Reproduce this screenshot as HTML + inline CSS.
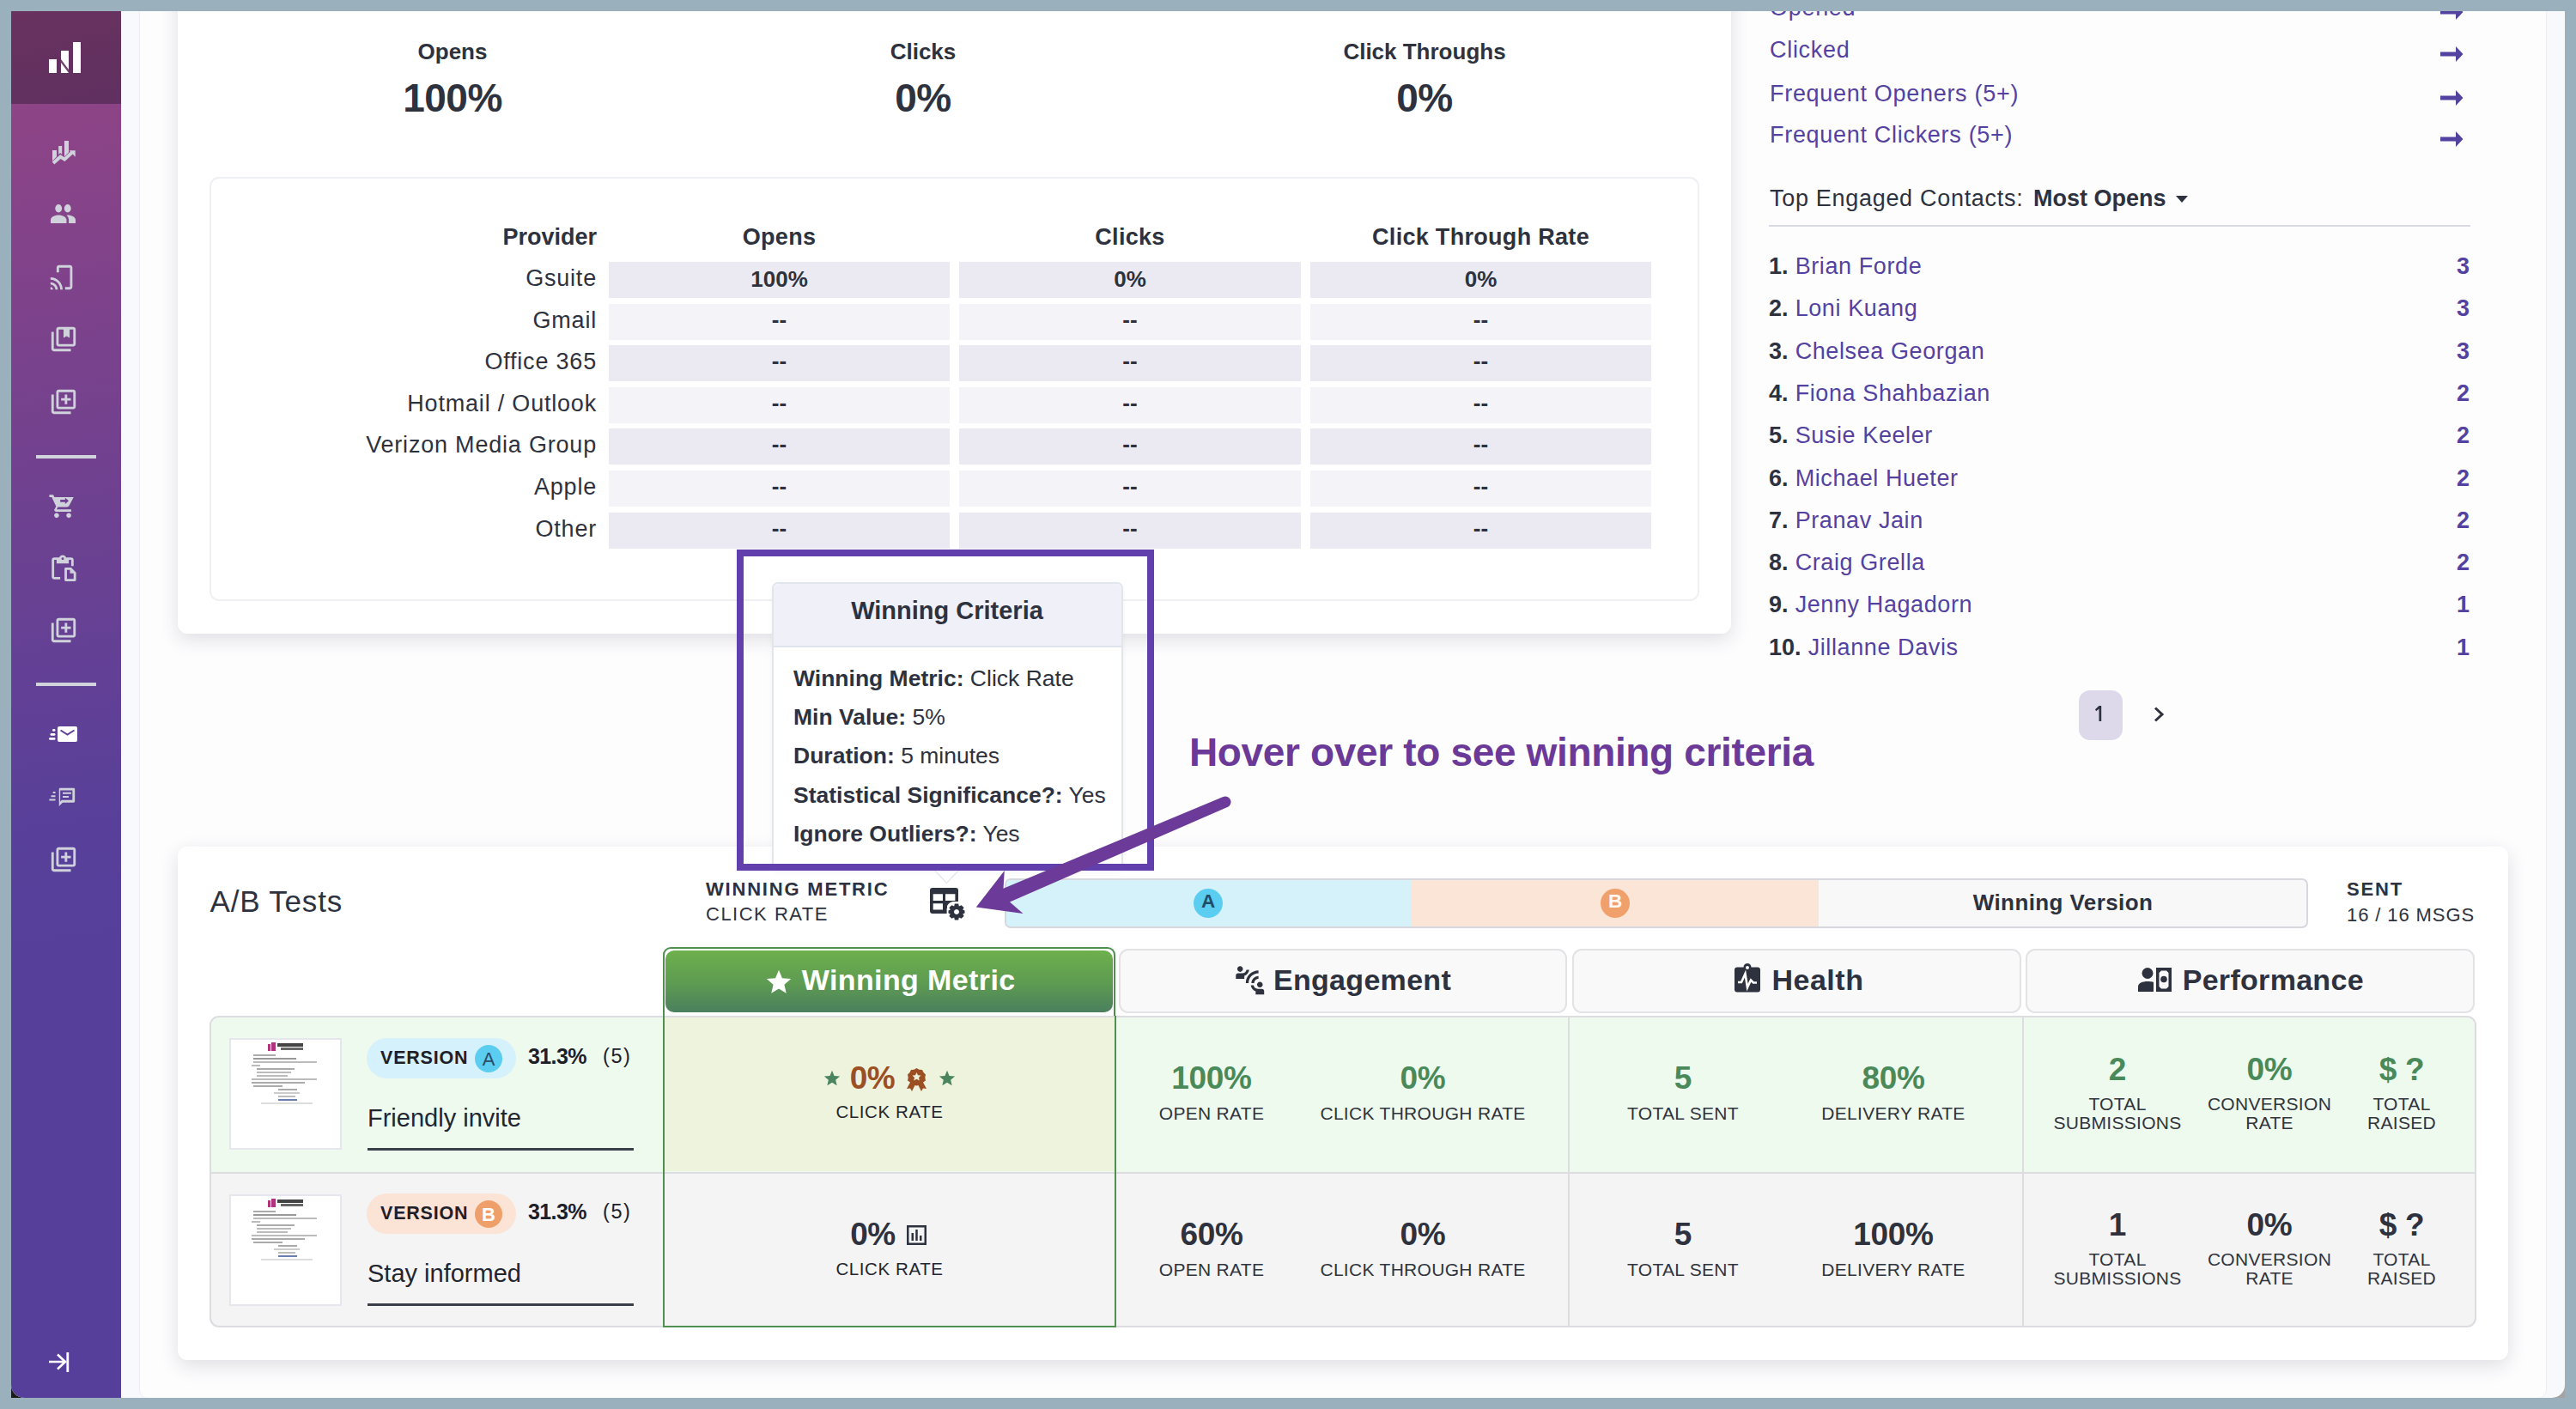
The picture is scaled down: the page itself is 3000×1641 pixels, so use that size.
<!DOCTYPE html><html><head><meta charset="utf-8"><style>
html,body{margin:0;padding:0}
body{width:3000px;height:1641px;overflow:hidden;position:relative;background:#9ab0bc;font-family:"Liberation Sans",sans-serif}
.t{position:absolute;line-height:1;white-space:nowrap}
.a{position:absolute}
svg{position:absolute;overflow:visible}
</style></head><body>
<div style="position:absolute;left:13px;top:1608px;width:17px;height:20px;background:#1b1b16;"></div>
<div style="position:absolute;left:2970px;top:1608px;width:17px;height:20px;background:#a3a3a3;"></div>
<div style="position:absolute;left:13px;top:13px;width:2974px;height:1615px;background:#f8f9fd;border-radius:0 0 15px 15px;"></div>
<div style="position:absolute;left:163px;top:13px;width:2802px;height:1615px;background:#fdfdfe;border-radius:0 0 9px 9px;box-shadow:-1px 0 0 #ececf1, 1px 0 0 #ececf1;"></div>
<div style="position:absolute;left:13px;top:121px;width:128px;height:1507px;background:linear-gradient(172deg,#8e4486 0%,#71418f 28%,#58409a 56%,#553f9b 66%,#553f9b 100%);border-radius:0 0 0 15px;"></div>
<div style="position:absolute;left:13px;top:13px;width:128px;height:108px;background:linear-gradient(165deg,#69325f 0%,#5f3060 100%);"></div>
<div style="position:absolute;left:57px;top:69px;width:9px;height:16px;background:#fff;"></div>
<svg style="left:71px;top:59px" width="9" height="26"><path d="M0 0H9V26H0Z" fill="#fff"/><path d="M0 10 L9 22 L9 26 L0 14Z" fill="#633160" opacity="0.9"/></svg>
<div style="position:absolute;left:85px;top:49px;width:9px;height:36px;background:#fff;"></div>
<svg style="left:50px;top:155px" width="50" height="45" viewBox="0 0 50 45"><path d="M11 20H16V27.5L11 32.5ZM18.2 15H22.2V25L20.2 23 18.2 25ZM25 9H30V22.5L25 27.5ZM30.6 20.3H37.7V27.8Z" fill="#cfd2da"/><path d="M12 35 L20.4 27.6 L25.2 30.6 L34.5 22" stroke="#cfd2da" stroke-width="4" fill="none"/></svg>
<svg style="left:59px;top:238px" width="29" height="22" viewBox="1 5 22 14" preserveAspectRatio="none"><path d="M16 11c1.66 0 2.99-1.34 2.99-3S17.66 5 16 5c-1.66 0-3 1.34-3 3s1.34 3 3 3zm-8 0c1.66 0 2.99-1.34 2.99-3S9.66 5 8 5C6.34 5 5 6.34 5 8s1.34 3 3 3zm0 2c-2.33 0-7 1.17-7 3.5V19h14v-2.5c0-2.33-4.67-3.5-7-3.5zm8 0c-.29 0-.62.02-.97.05 1.16.84 1.97 1.97 1.97 3.45V19h6v-2.5c0-2.33-4.67-3.5-7-3.5z" fill="#cfd2da"/></svg>
<svg style="left:56px;top:306px" width="34" height="34" viewBox="0 0 24 24"><path d="M9 2h9c1.1 0 2 .9 2 2v16c0 1.1-.9 2-2 2h-4v-2h4V4H9v4H7V4c0-1.1.9-2 2-2zM2 20v2h2c0-1.1-.9-2-2-2zm0-4v2c2.2 0 4 1.8 4 4h2c0-3.3-2.7-6-6-6zm0-4v2c4.4 0 8 3.6 8 8h2c0-5.5-4.5-10-10-10z" fill="#cfd2da"/></svg>
<svg style="left:57px;top:378px" width="34" height="34" viewBox="0 0 24 24"><path d="M4 6H2v14c0 1.1.9 2 2 2h14v-2H4V6zm16-4H8c-1.1 0-2 .9-2 2v12c0 1.1.9 2 2 2h12c1.1 0 2-.9 2-2V4c0-1.1-.9-2-2-2zm0 14H8V4h4v7l2.5-1.5L17 11V4h3v12z" fill="#cfd2da"/></svg>
<svg style="left:57px;top:451px" width="34" height="34" viewBox="0 0 24 24"><path d="M4 6H2v14c0 1.1.9 2 2 2h14v-2H4V6zm16-4H8c-1.1 0-2 .9-2 2v12c0 1.1.9 2 2 2h12c1.1 0 2-.9 2-2V4c0-1.1-.9-2-2-2zm0 14H8V4h12v12zm-7-2h2v-3h3V9h-3V6h-2v3h-3v2h3z" fill="#cfd2da"/></svg>
<div style="position:absolute;left:42px;top:530px;width:70px;height:4px;background:#d2d4dc;"></div>
<svg style="left:56px;top:572px" width="34" height="34" viewBox="0 0 24 24"><path d="M7 18c-1.1 0-1.99.9-1.99 2S5.9 22 7 22s2-.9 2-2-.9-2-2-2zm10 0c-1.1 0-1.99.9-1.99 2s.89 2 1.99 2 2-.9 2-2-.9-2-2-2zM8.1 13h7.45c.75 0 1.41-.41 1.75-1.03L21 5H5.21l-.94-2H1v2h2l3.6 7.59-1.35 2.44C4.52 15.37 5.48 17 7 17h12v-2H7l1.1-2zM10 7h4V5.5l3 2.5-3 2.5V9h-4z" fill="#cfd2da"/></svg>
<svg style="left:56px;top:645px" width="34" height="34" viewBox="0 0 24 24"><path d="M19 3h-4.18C14.4 1.84 13.3 1 12 1s-2.4.84-2.82 2H5c-1.1 0-2 .9-2 2v14c0 1.1.9 2 2 2h5v-2H5V5h2v3h10V5h2v5h2V5c0-1.1-.9-2-2-2zm-7 2c-.55 0-1-.45-1-1s.45-1 1-1 1 .45 1 1-.45 1-1 1zM14.5 11.3h4.5l4 4v6.3c0 .6-.4 1-1 1h-7.5c-.6 0-1-.4-1-1v-9.3c0-.6.4-1 1-1zm1 2v7.3h5.5v-4.5h-3v-2.8z" fill="#cfd2da"/></svg>
<svg style="left:57px;top:717px" width="34" height="34" viewBox="0 0 24 24"><path d="M4 6H2v14c0 1.1.9 2 2 2h14v-2H4V6zm16-4H8c-1.1 0-2 .9-2 2v12c0 1.1.9 2 2 2h12c1.1 0 2-.9 2-2V4c0-1.1-.9-2-2-2zm0 14H8V4h12v12zm-7-2h2v-3h3V9h-3V6h-2v3h-3v2h3z" fill="#cfd2da"/></svg>
<div style="position:absolute;left:42px;top:795px;width:70px;height:4px;background:#d2d4dc;"></div>
<svg style="left:50px;top:840px" width="45" height="30" viewBox="50 840 45 30"><rect x="67" y="846" width="23" height="18" rx="2" fill="#fff"/><path d="M70.5 850.5 L78.5 855.5 L86.5 850.5" stroke="#5d3f98" stroke-width="2" fill="none"/><rect x="61" y="849" width="3.5" height="2.8" rx="1.4" fill="#fff"/><rect x="58.5" y="854" width="6" height="2.8" rx="1.4" fill="#fff"/><rect x="57" y="859" width="7.5" height="2.8" rx="1.4" fill="#fff"/></svg>
<svg style="left:56px;top:912px" width="34" height="34" viewBox="0 0 24 24"><path d="M9 4h12c.6 0 1 .4 1 1v10c0 .6-.4 1-1 1h-9l-3 3V5c0-.6.4-1 1-1zm1 2v9.2L11.2 14H20V6zm2 1.5h7V9h-7zm0 3h5V12h-5zM1 13h5v1.5H1zM2.5 10H6v1.5H2.5zM4 7h2v1.5H4z" fill="#cfd2da"/></svg>
<svg style="left:57px;top:984px" width="34" height="34" viewBox="0 0 24 24"><path d="M4 6H2v14c0 1.1.9 2 2 2h14v-2H4V6zm16-4H8c-1.1 0-2 .9-2 2v12c0 1.1.9 2 2 2h12c1.1 0 2-.9 2-2V4c0-1.1-.9-2-2-2zm0 14H8V4h12v12zm-7-2h2v-3h3V9h-3V6h-2v3h-3v2h3z" fill="#cfd2da"/></svg>
<svg style="left:0;top:0" width="200" height="1641"><path d="M57 1586H76M67 1577.5L76 1586 67 1594.5" stroke="#fff" stroke-width="2.6" fill="none"/><rect x="77.4" y="1575" width="2.8" height="23" fill="#fff"/></svg>
<div style="position:absolute;left:207px;top:-20px;width:1809px;height:758px;background:#fff;border-radius:11px;box-shadow:0 7px 22px rgba(40,40,70,0.14);"></div>
<div class="t" style="left:-73px;width:1200px;text-align:center;top:46.9px;font-size:26px;font-weight:700;color:#2d323e;">Opens</div>
<div class="t" style="left:-73px;width:1200px;text-align:center;top:90.9px;font-size:46px;font-weight:700;color:#2d323e;letter-spacing:-0.5px;">100%</div>
<div class="t" style="left:475px;width:1200px;text-align:center;top:46.9px;font-size:26px;font-weight:700;color:#2d323e;">Clicks</div>
<div class="t" style="left:475px;width:1200px;text-align:center;top:90.9px;font-size:46px;font-weight:700;color:#2d323e;letter-spacing:-0.5px;">0%</div>
<div class="t" style="left:1059px;width:1200px;text-align:center;top:46.9px;font-size:26px;font-weight:700;color:#2d323e;">Click Throughs</div>
<div class="t" style="left:1059px;width:1200px;text-align:center;top:90.9px;font-size:46px;font-weight:700;color:#2d323e;letter-spacing:-0.5px;">0%</div>
<div style="position:absolute;left:244px;top:206px;width:1735px;height:494px;background:#fff;border:2px solid #eef0f3;border-radius:11px;box-sizing:border-box;"></div>
<div class="t" style="left:-505px;width:1200px;text-align:right;top:263.1px;font-size:27px;font-weight:700;color:#2d323e;">Provider</div>
<div class="t" style="left:307.5px;width:1200px;text-align:center;top:263.1px;font-size:27px;font-weight:700;color:#2d323e;letter-spacing:0.3px;">Opens</div>
<div class="t" style="left:716.0px;width:1200px;text-align:center;top:263.1px;font-size:27px;font-weight:700;color:#2d323e;letter-spacing:0.3px;">Clicks</div>
<div class="t" style="left:1124.5px;width:1200px;text-align:center;top:263.1px;font-size:27px;font-weight:700;color:#2d323e;letter-spacing:0.3px;">Click Through Rate</div>
<div style="position:absolute;left:709px;top:305px;width:397px;height:42px;background:#ebeaf3;"></div>
<div style="position:absolute;left:1117px;top:305px;width:398px;height:42px;background:#ebeaf3;"></div>
<div style="position:absolute;left:1526px;top:305px;width:397px;height:42px;background:#ebeaf3;"></div>
<div class="t" style="left:-505px;width:1200px;text-align:right;top:311.1px;font-size:27px;color:#2d323e;letter-spacing:0.8px;">Gsuite</div>
<div class="t" style="left:307.5px;width:1200px;text-align:center;top:311.9px;font-size:26px;font-weight:700;color:#2d323e;">100%</div>
<div class="t" style="left:716.0px;width:1200px;text-align:center;top:311.9px;font-size:26px;font-weight:700;color:#2d323e;">0%</div>
<div class="t" style="left:1124.5px;width:1200px;text-align:center;top:311.9px;font-size:26px;font-weight:700;color:#2d323e;">0%</div>
<div style="position:absolute;left:709px;top:354px;width:397px;height:42px;background:#f4f3f8;"></div>
<div style="position:absolute;left:1117px;top:354px;width:398px;height:42px;background:#f4f3f8;"></div>
<div style="position:absolute;left:1526px;top:354px;width:397px;height:42px;background:#f4f3f8;"></div>
<div class="t" style="left:-505px;width:1200px;text-align:right;top:359.7px;font-size:27px;color:#2d323e;letter-spacing:0.8px;">Gmail</div>
<div class="t" style="left:307.5px;width:1200px;text-align:center;top:358.5px;font-size:26px;font-weight:700;color:#2d323e;">--</div>
<div class="t" style="left:716.0px;width:1200px;text-align:center;top:358.5px;font-size:26px;font-weight:700;color:#2d323e;">--</div>
<div class="t" style="left:1124.5px;width:1200px;text-align:center;top:358.5px;font-size:26px;font-weight:700;color:#2d323e;">--</div>
<div style="position:absolute;left:709px;top:402px;width:397px;height:42px;background:#ebeaf3;"></div>
<div style="position:absolute;left:1117px;top:402px;width:398px;height:42px;background:#ebeaf3;"></div>
<div style="position:absolute;left:1526px;top:402px;width:397px;height:42px;background:#ebeaf3;"></div>
<div class="t" style="left:-505px;width:1200px;text-align:right;top:408.2px;font-size:27px;color:#2d323e;letter-spacing:0.8px;">Office 365</div>
<div class="t" style="left:307.5px;width:1200px;text-align:center;top:407.1px;font-size:26px;font-weight:700;color:#2d323e;">--</div>
<div class="t" style="left:716.0px;width:1200px;text-align:center;top:407.1px;font-size:26px;font-weight:700;color:#2d323e;">--</div>
<div class="t" style="left:1124.5px;width:1200px;text-align:center;top:407.1px;font-size:26px;font-weight:700;color:#2d323e;">--</div>
<div style="position:absolute;left:709px;top:451px;width:397px;height:42px;background:#f4f3f8;"></div>
<div style="position:absolute;left:1117px;top:451px;width:398px;height:42px;background:#f4f3f8;"></div>
<div style="position:absolute;left:1526px;top:451px;width:397px;height:42px;background:#f4f3f8;"></div>
<div class="t" style="left:-505px;width:1200px;text-align:right;top:456.9px;font-size:27px;color:#2d323e;letter-spacing:0.8px;">Hotmail / Outlook</div>
<div class="t" style="left:307.5px;width:1200px;text-align:center;top:455.7px;font-size:26px;font-weight:700;color:#2d323e;">--</div>
<div class="t" style="left:716.0px;width:1200px;text-align:center;top:455.7px;font-size:26px;font-weight:700;color:#2d323e;">--</div>
<div class="t" style="left:1124.5px;width:1200px;text-align:center;top:455.7px;font-size:26px;font-weight:700;color:#2d323e;">--</div>
<div style="position:absolute;left:709px;top:499px;width:397px;height:42px;background:#ebeaf3;"></div>
<div style="position:absolute;left:1117px;top:499px;width:398px;height:42px;background:#ebeaf3;"></div>
<div style="position:absolute;left:1526px;top:499px;width:397px;height:42px;background:#ebeaf3;"></div>
<div class="t" style="left:-505px;width:1200px;text-align:right;top:505.4px;font-size:27px;color:#2d323e;letter-spacing:0.8px;">Verizon Media Group</div>
<div class="t" style="left:307.5px;width:1200px;text-align:center;top:504.3px;font-size:26px;font-weight:700;color:#2d323e;">--</div>
<div class="t" style="left:716.0px;width:1200px;text-align:center;top:504.3px;font-size:26px;font-weight:700;color:#2d323e;">--</div>
<div class="t" style="left:1124.5px;width:1200px;text-align:center;top:504.3px;font-size:26px;font-weight:700;color:#2d323e;">--</div>
<div style="position:absolute;left:709px;top:548px;width:397px;height:42px;background:#f4f3f8;"></div>
<div style="position:absolute;left:1117px;top:548px;width:398px;height:42px;background:#f4f3f8;"></div>
<div style="position:absolute;left:1526px;top:548px;width:397px;height:42px;background:#f4f3f8;"></div>
<div class="t" style="left:-505px;width:1200px;text-align:right;top:554.0px;font-size:27px;color:#2d323e;letter-spacing:0.8px;">Apple</div>
<div class="t" style="left:307.5px;width:1200px;text-align:center;top:552.9px;font-size:26px;font-weight:700;color:#2d323e;">--</div>
<div class="t" style="left:716.0px;width:1200px;text-align:center;top:552.9px;font-size:26px;font-weight:700;color:#2d323e;">--</div>
<div class="t" style="left:1124.5px;width:1200px;text-align:center;top:552.9px;font-size:26px;font-weight:700;color:#2d323e;">--</div>
<div style="position:absolute;left:709px;top:597px;width:397px;height:42px;background:#ebeaf3;"></div>
<div style="position:absolute;left:1117px;top:597px;width:398px;height:42px;background:#ebeaf3;"></div>
<div style="position:absolute;left:1526px;top:597px;width:397px;height:42px;background:#ebeaf3;"></div>
<div class="t" style="left:-505px;width:1200px;text-align:right;top:602.6px;font-size:27px;color:#2d323e;letter-spacing:0.8px;">Other</div>
<div class="t" style="left:307.5px;width:1200px;text-align:center;top:601.5px;font-size:26px;font-weight:700;color:#2d323e;">--</div>
<div class="t" style="left:716.0px;width:1200px;text-align:center;top:601.5px;font-size:26px;font-weight:700;color:#2d323e;">--</div>
<div class="t" style="left:1124.5px;width:1200px;text-align:center;top:601.5px;font-size:26px;font-weight:700;color:#2d323e;">--</div>
<div class="t" style="left:2061px;top:-3.9px;font-size:27px;color:#5442a1;letter-spacing:0.7px;">Opened</div>
<svg style="left:2842px;top:5px" width="27" height="18"><path d="M0 6.5H18V0L26.5 9L18 18V11.5H0Z" fill="#5442a1"/></svg>
<div class="t" style="left:2061px;top:45.0px;font-size:27px;color:#5442a1;letter-spacing:0.7px;">Clicked</div>
<svg style="left:2842px;top:54px" width="27" height="18"><path d="M0 6.5H18V0L26.5 9L18 18V11.5H0Z" fill="#5442a1"/></svg>
<div class="t" style="left:2061px;top:95.5px;font-size:27px;color:#5442a1;letter-spacing:0.7px;">Frequent Openers (5+)</div>
<svg style="left:2842px;top:104.5px" width="27" height="18"><path d="M0 6.5H18V0L26.5 9L18 18V11.5H0Z" fill="#5442a1"/></svg>
<div class="t" style="left:2061px;top:144.1px;font-size:27px;color:#5442a1;letter-spacing:0.7px;">Frequent Clickers (5+)</div>
<svg style="left:2842px;top:153px" width="27" height="18"><path d="M0 6.5H18V0L26.5 9L18 18V11.5H0Z" fill="#5442a1"/></svg>
<div class="t" style="left:2061px;top:218.1px;font-size:27px;color:#2d323e;letter-spacing:0.7px;">Top Engaged Contacts:</div>
<div class="t" style="left:2368px;top:218.1px;font-size:27px;font-weight:700;color:#2d323e;">Most Opens</div>
<svg style="left:2534px;top:228px" width="14" height="8"><path d="M0 0H14L7 8Z" fill="#2d323e"/></svg>
<div style="position:absolute;left:2060px;top:262px;width:817px;height:2px;background:#d9d9e1;"></div>
<div class="t" style="left:2060px;top:297.1px;font-size:27px;color:#5442a1;letter-spacing:0.6px"><b style="color:#2d323e;letter-spacing:0">1.</b> Brian Forde</div>
<div class="t" style="left:1676px;width:1200px;text-align:right;top:297.1px;font-size:27px;font-weight:700;color:#5442a1;">3</div>
<div class="t" style="left:2060px;top:346.4px;font-size:27px;color:#5442a1;letter-spacing:0.6px"><b style="color:#2d323e;letter-spacing:0">2.</b> Loni Kuang</div>
<div class="t" style="left:1676px;width:1200px;text-align:right;top:346.4px;font-size:27px;font-weight:700;color:#5442a1;">3</div>
<div class="t" style="left:2060px;top:395.7px;font-size:27px;color:#5442a1;letter-spacing:0.6px"><b style="color:#2d323e;letter-spacing:0">3.</b> Chelsea Georgan</div>
<div class="t" style="left:1676px;width:1200px;text-align:right;top:395.7px;font-size:27px;font-weight:700;color:#5442a1;">3</div>
<div class="t" style="left:2060px;top:444.9px;font-size:27px;color:#5442a1;letter-spacing:0.6px"><b style="color:#2d323e;letter-spacing:0">4.</b> Fiona Shahbazian</div>
<div class="t" style="left:1676px;width:1200px;text-align:right;top:444.9px;font-size:27px;font-weight:700;color:#5442a1;">2</div>
<div class="t" style="left:2060px;top:494.3px;font-size:27px;color:#5442a1;letter-spacing:0.6px"><b style="color:#2d323e;letter-spacing:0">5.</b> Susie Keeler</div>
<div class="t" style="left:1676px;width:1200px;text-align:right;top:494.3px;font-size:27px;font-weight:700;color:#5442a1;">2</div>
<div class="t" style="left:2060px;top:543.5px;font-size:27px;color:#5442a1;letter-spacing:0.6px"><b style="color:#2d323e;letter-spacing:0">6.</b> Michael Hueter</div>
<div class="t" style="left:1676px;width:1200px;text-align:right;top:543.5px;font-size:27px;font-weight:700;color:#5442a1;">2</div>
<div class="t" style="left:2060px;top:592.8px;font-size:27px;color:#5442a1;letter-spacing:0.6px"><b style="color:#2d323e;letter-spacing:0">7.</b> Pranav Jain</div>
<div class="t" style="left:1676px;width:1200px;text-align:right;top:592.8px;font-size:27px;font-weight:700;color:#5442a1;">2</div>
<div class="t" style="left:2060px;top:642.1px;font-size:27px;color:#5442a1;letter-spacing:0.6px"><b style="color:#2d323e;letter-spacing:0">8.</b> Craig Grella</div>
<div class="t" style="left:1676px;width:1200px;text-align:right;top:642.1px;font-size:27px;font-weight:700;color:#5442a1;">2</div>
<div class="t" style="left:2060px;top:691.4px;font-size:27px;color:#5442a1;letter-spacing:0.6px"><b style="color:#2d323e;letter-spacing:0">9.</b> Jenny Hagadorn</div>
<div class="t" style="left:1676px;width:1200px;text-align:right;top:691.4px;font-size:27px;font-weight:700;color:#5442a1;">1</div>
<div class="t" style="left:2060px;top:740.8px;font-size:27px;color:#5442a1;letter-spacing:0.6px"><b style="color:#2d323e;letter-spacing:0">10.</b> Jillanne Davis</div>
<div class="t" style="left:1676px;width:1200px;text-align:right;top:740.8px;font-size:27px;font-weight:700;color:#5442a1;">1</div>
<div style="position:absolute;left:2421px;top:804px;width:51px;height:58px;background:#ddd9ea;border-radius:13px;"></div>
<svg style="left:2436px;top:818px" width="20" height="26"><path d="M8.5 4H11.2V22H8.5V7.6L5.2 10.2 4 8.2Z" fill="#2d323e"/></svg>
<svg style="left:2508px;top:823px" width="13" height="18"><path d="M2 1.5L10 9L2 16.5" stroke="#2d323e" stroke-width="3" fill="none"/></svg>
<div style="position:absolute;left:207px;top:986px;width:2714px;height:598px;background:#fff;border-radius:11px;box-shadow:0 7px 22px rgba(40,40,70,0.14);"></div>
<div class="t" style="left:244.6px;top:1032.0px;font-size:35px;color:#2d323e;letter-spacing:0.8px;">A/B Tests</div>
<div class="t" style="left:822px;top:1025.3px;font-size:22px;font-weight:700;color:#2d323e;letter-spacing:1.8px;">WINNING METRIC</div>
<div class="t" style="left:822px;top:1054.3px;font-size:22px;color:#2d323e;letter-spacing:1.5px;">CLICK RATE</div>
<svg style="left:1083px;top:1034px" width="42" height="40" viewBox="0 0 42 40">
<path d="M3 0H30Q33 0 33 3V16H27Q22.5 16.5 20 21V24H19.6V30H3Q0 30 0 27V3Q0 0 3 0ZM3.7 7.2V15H15V7.2ZM18 7.2V15H29.4V7.2ZM3.7 18.3V25.4H15V18.3Z" fill="#2d323e" fill-rule="evenodd"/>
<g transform="translate(31,28)"><path d="M-2.2 -9.5H2.2L2.8 -6.6 5.6 -7.8 8.6 -5 7.2 -2.4 9.5 -1.6V1.6L7.2 2.4 8.6 5 5.6 7.8 2.8 6.6 2.2 9.5H-2.2L-2.8 6.6-5.6 7.8-8.6 5-7.2 2.4-9.5 1.6V-1.6L-7.2 -2.4-8.6-5-5.6-7.8-2.8-6.6Z M0 -3A3 3 0 1 0 0.01 -3Z" fill="#2d323e" fill-rule="evenodd"/></g>
</svg>
<div class="a" style="left:1170px;top:1023px;width:1518px;height:58px;border:2px solid #d7d7de;border-radius:7px;box-sizing:border-box;overflow:hidden;background:#f8f8f9">
<div class="a" style="left:0;top:0;width:472px;height:54px;background:#d5f2fb"></div>
<div class="a" style="left:472px;top:0;width:474px;height:54px;background:#fbe5d7"></div>
</div>
<div style="position:absolute;left:1390px;top:1034.5px;width:34px;height:34.0px;background:#5bcdf0;border-radius:50%;"></div>
<div class="t" style="left:807px;width:1200px;text-align:center;top:1039.4px;font-size:22.5px;font-weight:700;color:#1f4d68;">A</div>
<div style="position:absolute;left:1864px;top:1034.5px;width:34px;height:34.0px;background:#f0a06b;border-radius:50%;"></div>
<div class="t" style="left:1281px;width:1200px;text-align:center;top:1039.4px;font-size:22.5px;font-weight:700;color:#fff8f2;">B</div>
<div class="t" style="left:1802.5px;width:1200px;text-align:center;top:1037.5px;font-size:26px;font-weight:700;color:#2d323e;letter-spacing:0.4px;">Winning Version</div>
<div class="t" style="left:2733px;top:1025.3px;font-size:22px;font-weight:700;color:#2d323e;letter-spacing:1.8px;">SENT</div>
<div class="t" style="left:2733px;top:1054.8px;font-size:22px;color:#2d323e;letter-spacing:0.9px;">16 / 16 MSGS</div>
<div style="position:absolute;left:772px;top:1103px;width:527px;height:87px;border:2px solid #4f8f50;border-bottom:none;border-radius:9px 9px 0 0;box-sizing:border-box;"></div>
<div style="position:absolute;left:775px;top:1107px;width:521px;height:72px;background:linear-gradient(180deg,#6eb04c 0%,#5d9a52 55%,#4b7f5e 100%);border-radius:10px;"></div>
<div style="position:absolute;left:1302.6px;top:1105px;width:522.4000000000001px;height:75px;background:#f9f9fa;border:2px solid #e3e3e6;border-radius:11px;box-sizing:border-box;"></div>
<div style="position:absolute;left:1831px;top:1105px;width:523px;height:75px;background:#f9f9fa;border:2px solid #e3e3e6;border-radius:11px;box-sizing:border-box;"></div>
<div style="position:absolute;left:2359px;top:1105px;width:523px;height:75px;background:#f9f9fa;border:2px solid #e3e3e6;border-radius:11px;box-sizing:border-box;"></div>
<svg style="left:889px;top:1127px" width="36" height="34" viewBox="0 0 24 24"><path d="M12 17.27L18.18 21l-1.64-7.03L22 9.24l-7.19-.61L12 2 9.19 8.63 2 9.24l5.46 4.73L5.82 21z" fill="#fff"/></svg>
<div class="t" style="left:933.7px;top:1124.1px;font-size:34px;font-weight:700;color:#ffffff;letter-spacing:0.4px;">Winning Metric</div>
<svg style="left:1435.8px;top:1122px" width="39.5" height="39.5" viewBox="0 0 24 24"><path d="M11 14H9c0-4.97 4.03-9 9-9v2c-3.87 0-7 3.13-7 7zm7-3V9c-2.76 0-5 2.24-5 5h2c0-1.66 1.34-3 3-3zM7 4c0-1.11-.89-2-2-2s-2 .89-2 2 .89 2 2 2 2-.89 2-2zm4.45.5h-2C9.21 5.92 7.99 7 6.5 7h-3C2.67 7 2 7.67 2 8.5V11h6V8.74c1.86-.59 3.25-2.23 3.45-4.24zM19 17c1.11 0 2-.89 2-2s-.89-2-2-2-2 .89-2 2 .89 2 2 2zm1.5 1h-3c-1.49 0-2.71-1.08-2.95-2.5h-2c.2 2.01 1.59 3.65 3.45 4.24V22h6v-2.5c0-.83-.67-1.5-1.5-1.5z" fill="#2d323e"/></svg>
<div class="t" style="left:1483px;top:1124.1px;font-size:34px;font-weight:700;color:#2d323e;letter-spacing:0.3px;">Engagement</div>
<svg style="left:2020px;top:1122px" width="30" height="34" viewBox="0 0 30 34"><path d="M3 4.5H10.5A4.5 4.5 0 0 1 19.5 4.5H27C28.7 4.5 30 5.8 30 7.5V30.5C30 32.2 28.7 33.5 27 33.5H3C1.3 33.5 0 32.2 0 30.5V7.5C0 5.8 1.3 4.5 3 4.5ZM13 5A2 2 0 0 0 17 5A2 2 0 0 0 13 5Z" fill="#2d323e" fill-rule="evenodd"/><path d="M4 22H8L12.5 12 15 28 19 19.5 22 22.5H26" stroke="#fff" stroke-width="2.6" fill="none" stroke-linejoin="miter"/></svg>
<div class="t" style="left:2063.5px;top:1124.1px;font-size:34px;font-weight:700;color:#2d323e;letter-spacing:0.5px;">Health</div>
<svg style="left:2490px;top:1127px" width="40" height="28" viewBox="0 0 40 28"><circle cx="11" cy="6.5" r="6.5" fill="#2d323e"/><path d="M0 28V22C0 18 5 16 11 16S18 17 18 17V28Z" fill="#2d323e"/><path d="M21 0H39V28H21ZM24.5 6V22L27 24.5H33L35.5 22V6L33 3.5H27Z" fill="#2d323e" fill-rule="evenodd"/><circle cx="30" cy="13.5" r="3.8" fill="#2d323e"/></svg>
<div class="t" style="left:2541.7px;top:1124.1px;font-size:34px;font-weight:700;color:#2d323e;letter-spacing:0.3px;">Performance</div>
<div class="a" style="left:244px;top:1183px;width:2640px;height:363px;border:2px solid #dcdce1;border-radius:11px;box-sizing:border-box;overflow:hidden;background:#f4f4f5">
<div class="a" style="left:0;top:0;width:2640px;height:180px;background:#effaef"></div>
<div class="a" style="left:0;top:180px;width:2640px;height:2px;background:#dcdce1"></div>
</div>
<div style="position:absolute;left:772px;top:1185px;width:527px;height:179px;background:#eef3dd;"></div>
<div style="position:absolute;left:771.5px;top:1183px;width:2.0px;height:363px;background:#4f8f50;"></div>
<div style="position:absolute;left:1297.5px;top:1183px;width:2.0px;height:363px;background:#4f8f50;"></div>
<div style="position:absolute;left:772px;top:1544px;width:527px;height:2px;background:#4f8f50;"></div>
<div style="position:absolute;left:1825.6px;top:1185px;width:2.0px;height:361px;background:#dcdce1;"></div>
<div style="position:absolute;left:2354.6px;top:1185px;width:2.0px;height:361px;background:#dcdce1;"></div>
<div class="a" style="left:267px;top:1209px;width:131px;height:130px;background:#fff;border:2px solid #e6e6f1;box-sizing:border-box"><div class="a" style="left:43px;top:5px;width:3px;height:8px;background:#b0337e"></div><div class="a" style="left:47px;top:3px;width:5px;height:10px;background:#b0337e"></div><div class="a" style="left:54px;top:4px;width:30px;height:4px;background:#444"></div><div class="a" style="left:58px;top:9px;width:26px;height:3px;background:#666"></div><div class="a" style="left:26px;top:17px;width:26px;height:1.6px;background:#aaa"></div><div class="a" style="left:26px;top:21px;width:50px;height:1.6px;background:#999"></div><div class="a" style="left:26px;top:25px;width:74px;height:1.6px;background:#bbb"></div><div class="a" style="left:24px;top:29px;width:10px;height:1.6px;background:#bbb"></div><div class="a" style="left:30px;top:33px;width:44px;height:1.6px;background:#aaa"></div><div class="a" style="left:30px;top:37px;width:40px;height:1.6px;background:#bbb"></div><div class="a" style="left:30px;top:41px;width:36px;height:1.6px;background:#bbb"></div><div class="a" style="left:24px;top:45px;width:76px;height:1.6px;background:#bbb"></div><div class="a" style="left:24px;top:49px;width:62px;height:1.6px;background:#aaa"></div><div class="a" style="left:26px;top:53px;width:34px;height:1.6px;background:#aaa"></div><div class="a" style="left:55px;top:57px;width:22px;height:1.6px;background:#aaa"></div><div class="a" style="left:50px;top:61px;width:30px;height:1.6px;background:#ccc"></div><div class="a" style="left:55px;top:65px;width:20px;height:1.6px;background:#bbb"></div><div class="a" style="left:55px;top:69px;width:22px;height:1.6px;background:#6a7fb0"></div><div class="a" style="left:35px;top:73px;width:60px;height:1.6px;background:#ddd"></div></div>
<div class="a" style="left:267px;top:1391px;width:131px;height:130px;background:#fff;border:2px solid #e6e6f1;box-sizing:border-box"><div class="a" style="left:43px;top:5px;width:3px;height:8px;background:#b0337e"></div><div class="a" style="left:47px;top:3px;width:5px;height:10px;background:#b0337e"></div><div class="a" style="left:54px;top:4px;width:30px;height:4px;background:#444"></div><div class="a" style="left:58px;top:9px;width:26px;height:3px;background:#666"></div><div class="a" style="left:26px;top:17px;width:26px;height:1.6px;background:#aaa"></div><div class="a" style="left:26px;top:21px;width:50px;height:1.6px;background:#999"></div><div class="a" style="left:26px;top:25px;width:74px;height:1.6px;background:#bbb"></div><div class="a" style="left:24px;top:29px;width:10px;height:1.6px;background:#bbb"></div><div class="a" style="left:30px;top:33px;width:44px;height:1.6px;background:#aaa"></div><div class="a" style="left:30px;top:37px;width:40px;height:1.6px;background:#bbb"></div><div class="a" style="left:30px;top:41px;width:36px;height:1.6px;background:#bbb"></div><div class="a" style="left:24px;top:45px;width:76px;height:1.6px;background:#bbb"></div><div class="a" style="left:24px;top:49px;width:62px;height:1.6px;background:#aaa"></div><div class="a" style="left:26px;top:53px;width:34px;height:1.6px;background:#aaa"></div><div class="a" style="left:55px;top:57px;width:22px;height:1.6px;background:#aaa"></div><div class="a" style="left:50px;top:61px;width:30px;height:1.6px;background:#ccc"></div><div class="a" style="left:55px;top:65px;width:20px;height:1.6px;background:#bbb"></div><div class="a" style="left:55px;top:69px;width:22px;height:1.6px;background:#6a7fb0"></div><div class="a" style="left:35px;top:73px;width:60px;height:1.6px;background:#ddd"></div></div>
<div style="position:absolute;left:427px;top:1209px;width:174px;height:47px;background:#d5f1fb;border-radius:24px;"></div>
<div class="t" style="left:443px;top:1221.9px;font-size:21.5px;font-weight:700;color:#1d2029;letter-spacing:0.8px;">VERSION</div>
<div style="position:absolute;left:553px;top:1216.5px;width:32px;height:32.0px;background:#5bcdf0;border-radius:50%;"></div>
<div class="t" style="left:-31px;width:1200px;text-align:center;top:1222.5px;font-size:22px;color:#2d4a63;">A</div>
<div class="t" style="left:615px;top:1218.0px;font-size:25px;font-weight:700;color:#1d2029;letter-spacing:-0.6px;">31.3%</div>
<div class="t" style="left:702px;top:1218.7px;font-size:23.5px;color:#1d2029;letter-spacing:1.6px;">(5)</div>
<div class="t" style="left:428px;top:1288.3px;font-size:29px;color:#222631;">Friendly invite</div>
<div style="position:absolute;left:428px;top:1337px;width:310px;height:3px;background:#3a3f4a;"></div>
<div style="position:absolute;left:427px;top:1390px;width:174px;height:47px;background:#fbe3d5;border-radius:24px;"></div>
<div class="t" style="left:443px;top:1402.9px;font-size:21.5px;font-weight:700;color:#1d2029;letter-spacing:0.8px;">VERSION</div>
<div style="position:absolute;left:553px;top:1397.5px;width:32px;height:32.0px;background:#ef9f6a;border-radius:50%;"></div>
<div class="t" style="left:-31px;width:1200px;text-align:center;top:1403.5px;font-size:22px;font-weight:700;color:#ffffff;">B</div>
<div class="t" style="left:615px;top:1399.0px;font-size:25px;font-weight:700;color:#1d2029;letter-spacing:-0.6px;">31.3%</div>
<div class="t" style="left:702px;top:1399.7px;font-size:23.5px;color:#1d2029;letter-spacing:1.6px;">(5)</div>
<div class="t" style="left:428px;top:1469.0px;font-size:29px;color:#222631;">Stay informed</div>
<div style="position:absolute;left:428px;top:1517.7px;width:310px;height:3.0px;background:#3a3f4a;"></div>
<svg style="left:957.5px;top:1244.5px" width="22" height="22" viewBox="0 0 24 24"><path d="M12 17.27L18.18 21l-1.64-7.03L22 9.24l-7.19-.61L12 2 9.19 8.63 2 9.24l5.46 4.73L5.82 21z" fill="#4a8560"/></svg>
<div class="t" style="left:416px;width:1200px;text-align:center;top:1236.5px;font-size:37px;font-weight:700;color:#9b4f22;letter-spacing:-0.5px;">0%</div>
<svg style="left:1056px;top:1244px" width="23" height="27" viewBox="0 0 23 27"><path d="M11.5 0 14.5 1.8 18 2 19.5 5 22 7.5 21.3 11 22 14.5 19 16.5 23 24 19 23.5 17 27 13.5 20 11.5 20.5 9.5 20 6 27 4 23.5 0 24 4 16.5 1 14.5 1.7 11 1 7.5 3.5 5 5 2 8.5 1.8Z" fill="#9b4f22"/><path d="M11.5 5 13 8.2 16.5 8.5 14 11 14.8 14.5 11.5 12.8 8.2 14.5 9 11 6.5 8.5 10 8.2Z" fill="#eef3dd"/></svg>
<svg style="left:1091.5px;top:1244.5px" width="22" height="22" viewBox="0 0 24 24"><path d="M12 17.27L18.18 21l-1.64-7.03L22 9.24l-7.19-.61L12 2 9.19 8.63 2 9.24l5.46 4.73L5.82 21z" fill="#4a8560"/></svg>
<div class="t" style="left:436px;width:1200px;text-align:center;top:1285.3px;font-size:20.5px;color:#222631;letter-spacing:0.6px;">CLICK RATE</div>
<div class="t" style="left:416.5px;width:1200px;text-align:center;top:1418.5px;font-size:37px;font-weight:700;color:#2d323e;letter-spacing:-0.5px;">0%</div>
<svg style="left:1056px;top:1427px" width="23" height="23" viewBox="0 0 23 23"><path d="M0 0H23V23H0ZM2.5 2.5V20.5H20.5V2.5ZM5.5 9H8V18H5.5ZM10.25 5H12.75V18H10.25ZM15 12H17.5V18H15Z" fill="#2d323e" fill-rule="evenodd"/></svg>
<div class="t" style="left:436px;width:1200px;text-align:center;top:1468.3px;font-size:20.5px;color:#222631;letter-spacing:0.6px;">CLICK RATE</div>
<div class="t" style="left:811px;width:1200px;text-align:center;top:1236.5px;font-size:37px;font-weight:700;color:#4a8a5a;letter-spacing:-0.3px;">100%</div>
<div class="t" style="left:811px;width:1200px;text-align:center;top:1285.9px;font-size:21px;color:#30343d;letter-spacing:0.3px;">OPEN RATE</div>
<div class="t" style="left:1057px;width:1200px;text-align:center;top:1236.5px;font-size:37px;font-weight:700;color:#4a8a5a;letter-spacing:-0.3px;">0%</div>
<div class="t" style="left:1057px;width:1200px;text-align:center;top:1285.9px;font-size:21px;color:#30343d;letter-spacing:0.3px;">CLICK THROUGH RATE</div>
<div class="t" style="left:1360px;width:1200px;text-align:center;top:1236.5px;font-size:37px;font-weight:700;color:#4a8a5a;letter-spacing:-0.3px;">5</div>
<div class="t" style="left:1360px;width:1200px;text-align:center;top:1285.9px;font-size:21px;color:#30343d;letter-spacing:0.3px;">TOTAL SENT</div>
<div class="t" style="left:1605px;width:1200px;text-align:center;top:1236.5px;font-size:37px;font-weight:700;color:#4a8a5a;letter-spacing:-0.3px;">80%</div>
<div class="t" style="left:1605px;width:1200px;text-align:center;top:1285.9px;font-size:21px;color:#30343d;letter-spacing:0.3px;">DELIVERY RATE</div>
<div class="t" style="left:811px;width:1200px;text-align:center;top:1418.5px;font-size:37px;font-weight:700;color:#2d323e;letter-spacing:-0.3px;">60%</div>
<div class="t" style="left:811px;width:1200px;text-align:center;top:1467.9px;font-size:21px;color:#30343d;letter-spacing:0.3px;">OPEN RATE</div>
<div class="t" style="left:1057px;width:1200px;text-align:center;top:1418.5px;font-size:37px;font-weight:700;color:#2d323e;letter-spacing:-0.3px;">0%</div>
<div class="t" style="left:1057px;width:1200px;text-align:center;top:1467.9px;font-size:21px;color:#30343d;letter-spacing:0.3px;">CLICK THROUGH RATE</div>
<div class="t" style="left:1360px;width:1200px;text-align:center;top:1418.5px;font-size:37px;font-weight:700;color:#2d323e;letter-spacing:-0.3px;">5</div>
<div class="t" style="left:1360px;width:1200px;text-align:center;top:1467.9px;font-size:21px;color:#30343d;letter-spacing:0.3px;">TOTAL SENT</div>
<div class="t" style="left:1605px;width:1200px;text-align:center;top:1418.5px;font-size:37px;font-weight:700;color:#2d323e;letter-spacing:-0.3px;">100%</div>
<div class="t" style="left:1605px;width:1200px;text-align:center;top:1467.9px;font-size:21px;color:#30343d;letter-spacing:0.3px;">DELIVERY RATE</div>
<div class="t" style="left:1866px;width:1200px;text-align:center;top:1226.5px;font-size:37px;font-weight:700;color:#4a8a5a;letter-spacing:-0.3px;">2</div>
<div class="t" style="left:1866px;width:1200px;text-align:center;top:1274.9px;font-size:21px;color:#30343d;letter-spacing:0.3px;">TOTAL</div>
<div class="t" style="left:1866px;width:1200px;text-align:center;top:1297.2px;font-size:21px;color:#30343d;letter-spacing:0.3px;">SUBMISSIONS</div>
<div class="t" style="left:2043px;width:1200px;text-align:center;top:1226.5px;font-size:37px;font-weight:700;color:#4a8a5a;letter-spacing:-0.3px;">0%</div>
<div class="t" style="left:2043px;width:1200px;text-align:center;top:1274.9px;font-size:21px;color:#30343d;letter-spacing:0.3px;">CONVERSION</div>
<div class="t" style="left:2043px;width:1200px;text-align:center;top:1297.2px;font-size:21px;color:#30343d;letter-spacing:0.3px;">RATE</div>
<div class="t" style="left:2197px;width:1200px;text-align:center;top:1226.5px;font-size:37px;font-weight:700;color:#4a8a5a;letter-spacing:-0.3px;">$ ?</div>
<div class="t" style="left:2197px;width:1200px;text-align:center;top:1274.9px;font-size:21px;color:#30343d;letter-spacing:0.3px;">TOTAL</div>
<div class="t" style="left:2197px;width:1200px;text-align:center;top:1297.2px;font-size:21px;color:#30343d;letter-spacing:0.3px;">RAISED</div>
<div class="t" style="left:1866px;width:1200px;text-align:center;top:1407.5px;font-size:37px;font-weight:700;color:#2d323e;letter-spacing:-0.3px;">1</div>
<div class="t" style="left:1866px;width:1200px;text-align:center;top:1455.9px;font-size:21px;color:#30343d;letter-spacing:0.3px;">TOTAL</div>
<div class="t" style="left:1866px;width:1200px;text-align:center;top:1478.2px;font-size:21px;color:#30343d;letter-spacing:0.3px;">SUBMISSIONS</div>
<div class="t" style="left:2043px;width:1200px;text-align:center;top:1407.5px;font-size:37px;font-weight:700;color:#2d323e;letter-spacing:-0.3px;">0%</div>
<div class="t" style="left:2043px;width:1200px;text-align:center;top:1455.9px;font-size:21px;color:#30343d;letter-spacing:0.3px;">CONVERSION</div>
<div class="t" style="left:2043px;width:1200px;text-align:center;top:1478.2px;font-size:21px;color:#30343d;letter-spacing:0.3px;">RATE</div>
<div class="t" style="left:2197px;width:1200px;text-align:center;top:1407.5px;font-size:37px;font-weight:700;color:#2d323e;letter-spacing:-0.3px;">$ ?</div>
<div class="t" style="left:2197px;width:1200px;text-align:center;top:1455.9px;font-size:21px;color:#30343d;letter-spacing:0.3px;">TOTAL</div>
<div class="t" style="left:2197px;width:1200px;text-align:center;top:1478.2px;font-size:21px;color:#30343d;letter-spacing:0.3px;">RAISED</div>
<div class="a" style="left:899px;top:678px;width:409px;height:336px;background:#fff;border:2px solid #e1e6ec;border-radius:7px;box-sizing:border-box;box-shadow:0 2px 6px rgba(0,0,0,0.04)">
<div class="a" style="left:0;top:0;width:405px;height:72px;background:#f0f0f9;border-bottom:2px solid #dfe3ee;border-radius:6px 6px 0 0"></div>
</div>
<svg style="left:1088px;top:1013px" width="30" height="17"><path d="M0 0L14.5 15.5L29 0" fill="#fff" stroke="#e3e8ee" stroke-width="1.5"/></svg>
<div class="t" style="left:503px;width:1200px;text-align:center;top:697.4px;font-size:29px;font-weight:700;color:#2d323e;">Winning Criteria</div>
<div class="t" style="left:924px;top:776.5px;font-size:26.5px;color:#2d323e"><b>Winning Metric:</b> Click Rate</div>
<div class="t" style="left:924px;top:821.9px;font-size:26.5px;color:#2d323e"><b>Min Value:</b> 5%</div>
<div class="t" style="left:924px;top:867.3px;font-size:26.5px;color:#2d323e"><b>Duration:</b> 5 minutes</div>
<div class="t" style="left:924px;top:912.7px;font-size:26.5px;color:#2d323e"><b>Statistical Significance?:</b> Yes</div>
<div class="t" style="left:924px;top:958.1px;font-size:26.5px;color:#2d323e"><b>Ignore Outliers?:</b> Yes</div>
<div style="position:absolute;left:858px;top:640px;width:486px;height:374px;border:8px solid #6140ae;box-sizing:border-box;"></div>
<div class="t" style="left:1385px;top:853.4px;font-size:46px;font-weight:700;color:#6b3a98;letter-spacing:-0.35px;">Hover over to see winning criteria</div>
<svg style="left:0;top:0" width="3000" height="1641"><path d="M1424.5 928 L1168.5 1034.8 L1169.8 1014 L1136.8 1056.6 L1191.5 1064 L1176 1050.4 L1429.5 940 A6.5 6.5 0 0 0 1424.5 928 Z" fill="#6c3a98"/></svg>
<div style="position:absolute;left:0px;top:0px;width:3000px;height:13px;background:#9ab0bc;"></div>
<div style="position:absolute;left:0px;top:1628px;width:3000px;height:13px;background:#9ab0bc;"></div>
<div style="position:absolute;left:0px;top:0px;width:13px;height:1641px;background:#9ab0bc;"></div>
<div style="position:absolute;left:2987px;top:0px;width:13px;height:1641px;background:#9ab0bc;"></div>
</body></html>
